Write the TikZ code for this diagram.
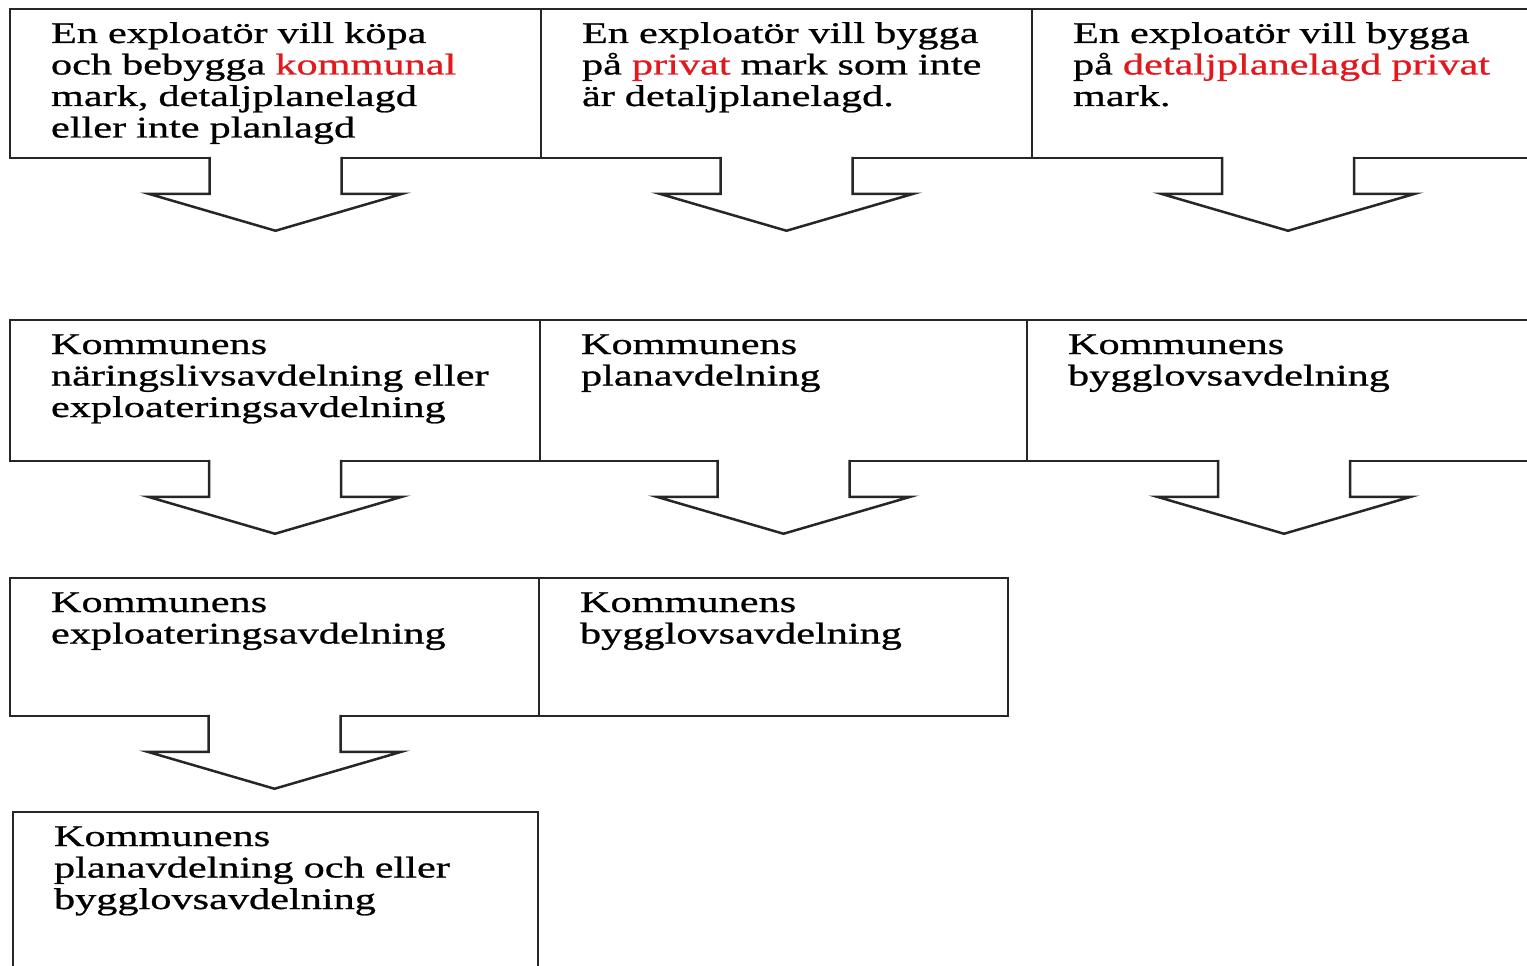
\documentclass[tikz,border=0pt]{standalone}
\usepackage{fontspec}
\setmainfont[FakeStretch=1.41,FakeBold=0.8]{Liberation Serif}
\usepackage{tikz}
\usetikzlibrary{positioning}
\definecolor{markrod}{RGB}{225,25,30}
\tikzstyle{ruta} = [draw,line width=2.5pt,black!85,text=black,anchor=north west,align=left,outer sep=0pt,inner xsep=41pt,inner ysep=14pt,text height=20pt,font=\fontsize{30}{31.5}\selectfont]
\tikzstyle{pil} = [draw,line width=2.5pt,black!85,fill=white,line join=miter]

\begin{document}
\begin{tikzpicture}[x=1pt,y=-1pt]
				\useasboundingbox (0,0) rectangle (1527,966);
				%Nodes
				\node (k1) [ruta,text width=449pt,text depth=101pt] at (10,9) {En exploatör vill köpa\\och bebygga \textcolor{markrod}{kommunal}\\mark, detaljplanelagd\\eller inte planlagd};
				\node (p1) [ruta,text width=409pt,text depth=101pt,right=0pt of k1] {En exploatör vill bygga\\på \textcolor{markrod}{privat} mark som inte\\är detaljplanelagd.};
				\node (d1) [ruta,text width=430pt,text depth=101pt,right=0pt of p1] {En exploatör vill bygga\\på \textcolor{markrod}{detaljplanelagd privat}\\mark.};
				
				\node (k2) [ruta,text width=448pt,text depth=93pt,below=162pt of k1.south west,anchor=north west] {Kommunens\\näringslivsavdelning eller\\exploateringsavdelning};
				\node (p2) [ruta,text width=405pt,text depth=93pt,right=0pt of k2] {Kommunens\\planavdelning};
				\node (d2) [ruta,text width=432pt,text depth=93pt,right=0pt of p2] {Kommunens\\bygglovsavdelning};
				
				\node (k3) [ruta,text width=447pt,text depth=90pt,below=117pt of k2.south west,anchor=north west] {Kommunens\\exploateringsavdelning};
				\node (p3) [ruta,text width=387pt,text depth=90pt,right=0pt of k3] {Kommunens\\bygglovsavdelning};
				
				\node (k4) [ruta,text width=443pt,text depth=160pt,below=96pt of k3.south west,anchor=north west,xshift=3pt] {Kommunens\\planavdelning och eller\\bygglovsavdelning};
			
				%Arrows
				\foreach \ruta in {k1,p1,d1,k2,p2,d2,k3}
				\draw[pil] ([xshift=-66pt,yshift=1.25pt]\ruta.south) -- ++(0,37) -- ++(-61,0) -- ++(127,37) -- ++(127,-37) -- ++(-61,0) -- ++(0,-37);
\end{tikzpicture}
\end{document}
